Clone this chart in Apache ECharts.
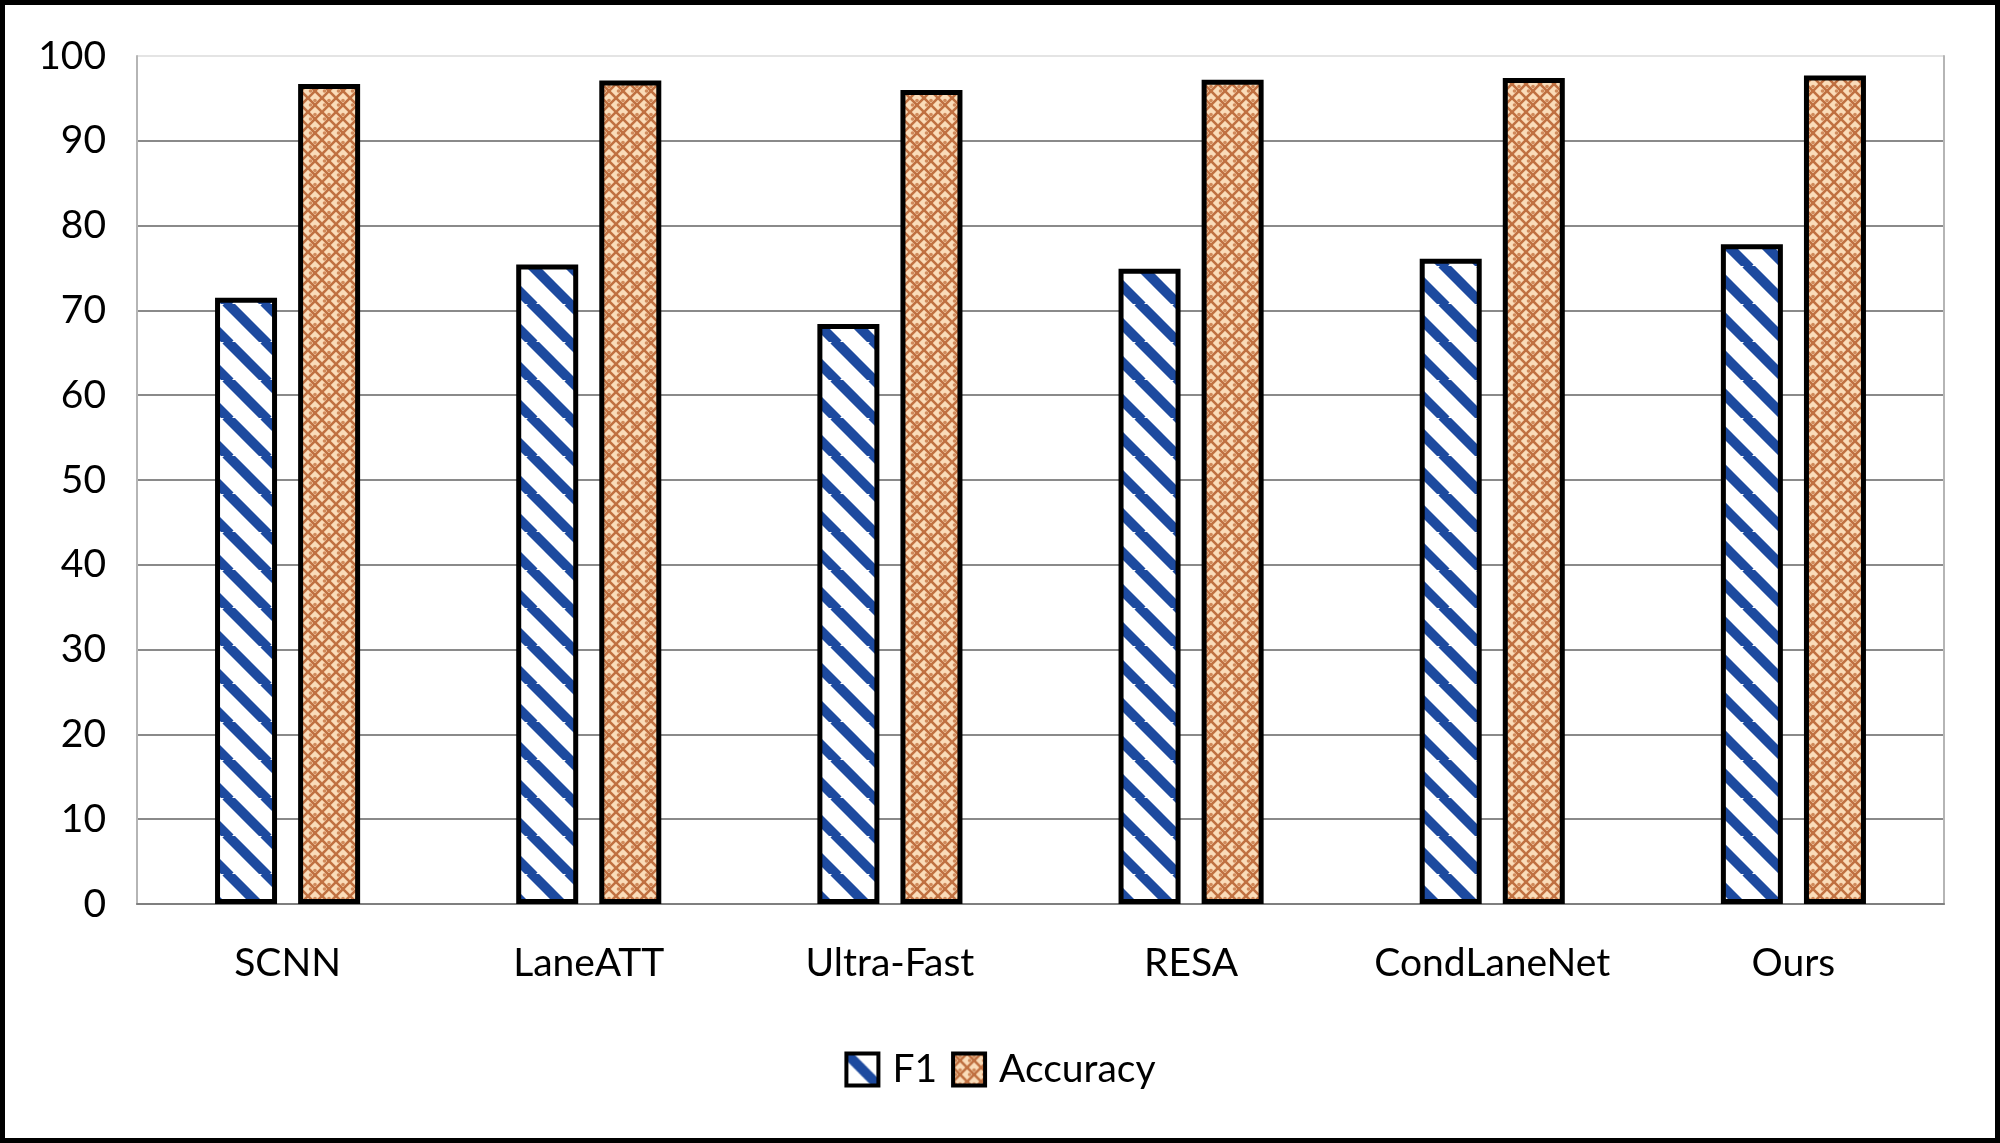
<!DOCTYPE html>
<html>
<head>
<meta charset="utf-8">
<script src="https://cdn.jsdelivr.net/npm/echarts@6/dist/echarts.min.js"></script>
<style>
html,body{margin:0;padding:0;background:#fff;}
#chart{width:2000px;height:1143px;}
</style>
</head>
<body>
<div id="chart"></div>
<script>
const categories = ['SCNN', 'LaneATT', 'Ultra-Fast', 'RESA', 'CondLaneNet', 'Ours'];
const f1Values = [71.5, 75.4, 68.4, 74.9, 76.1, 77.8];
const accuracyValues = [96.7, 97.1, 96.0, 97.2, 97.4, 97.7];
const yTicks = [0, 10, 20, 30, 40, 50, 60, 70, 80, 90, 100];

function stripeTile() {
  const s = 38;
  const c = document.createElement('canvas');
  c.width = s; c.height = s;
  const g = c.getContext('2d');
  g.fillStyle = '#ffffff';
  g.fillRect(0, 0, s, s);
  g.strokeStyle = '#1d4a9f';
  g.lineWidth = 10;
  [-s, 0, s].forEach(function (x0) {
    g.beginPath();
    g.moveTo(x0 - 2, -2);
    g.lineTo(x0 + s + 2, s + 2);
    g.stroke();
  });
  return c;
}
function hatchTile() {
  const s = 14;
  const c = document.createElement('canvas');
  c.width = s; c.height = s;
  const g = c.getContext('2d');
  g.fillStyle = '#fadcb9';
  g.fillRect(0, 0, s, s);
  g.strokeStyle = '#c07041';
  g.lineWidth = 2.6;
  [-s, 0, s].forEach(function (x0) {
    g.beginPath(); g.moveTo(x0 - 1, -1); g.lineTo(x0 + s + 1, s + 1); g.stroke();
    g.beginPath(); g.moveTo(x0 + s + 1, -1); g.lineTo(x0 - 1, s + 1); g.stroke();
  });
  g.fillStyle = '#d0895a';
  g.beginPath(); g.arc(s / 2, 2.5, 1.8, 0, Math.PI * 2); g.fill();
  g.beginPath(); g.arc(2.5, s / 2, 1.8, 0, Math.PI * 2); g.fill();
  return c;
}
const f1Pattern = { image: stripeTile(), repeat: 'repeat' };
const accPattern = { image: hatchTile(), repeat: 'repeat' };

const splitColors = yTicks.map(function (v) { return v === 100 ? '#e4e4e4' : '#8a8a8a'; });
const font = 'Lato, "Open Sans", sans-serif';

const chart = echarts.init(document.getElementById('chart'), null, { renderer: 'canvas' });
chart.setOption({
  backgroundColor: '#ffffff',
  animation: false,
  graphic: [{
    type: 'rect',
    shape: { x: 2.5, y: 2.5, width: 1995, height: 1138 },
    style: { fill: 'none', stroke: '#000', lineWidth: 5 },
    silent: true
  }],
  grid: { left: 137, right: 56, top: 56, bottom: 239 },
  legend: {
    data: ['F1', 'Accuracy'],
    left: 'center',
    top: 1045,
    icon: 'rect',
    itemWidth: 32,
    itemHeight: 32,
    itemGap: 14,
    itemStyle: { borderColor: '#000', borderWidth: 4 },
    textStyle: { fontSize: 39, color: '#000', fontFamily: font, padding: [0, 0, 0, 9] }
  },
  xAxis: {
    type: 'category',
    data: categories,
    axisLine: { show: true, lineStyle: { color: '#7f7f7f', width: 2 } },
    axisTick: { show: false },
    axisLabel: { interval: 0, fontSize: 39, color: '#000', fontFamily: font, margin: 40 }
  },
  yAxis: [{
    type: 'value',
    min: 0,
    max: 100,
    interval: 10,
    axisLine: { show: true, lineStyle: { color: '#b5b5b5', width: 2 } },
    axisTick: { show: false },
    splitLine: { show: true, lineStyle: { color: splitColors, width: 2 } },
    axisLabel: { fontSize: 39, color: '#000', fontFamily: font, margin: 31 }
  }, {
    type: 'value',
    position: 'right',
    min: 0,
    max: 100,
    interval: 10,
    axisLine: { show: true, lineStyle: { color: '#b5b5b5', width: 2 } },
    axisTick: { show: false },
    axisLabel: { show: false },
    splitLine: { show: false }
  }],
  series: [{
    name: 'F1',
    type: 'bar',
    data: f1Values,
    barWidth: 62,
    barGap: '34%',
    itemStyle: { color: f1Pattern, borderColor: '#000', borderWidth: 5 }
  }, {
    name: 'Accuracy',
    type: 'bar',
    data: accuracyValues,
    barWidth: 62,
    barGap: '34%',
    itemStyle: { color: accPattern, borderColor: '#000', borderWidth: 5 }
  }]
});
</script>
</body>
</html>
